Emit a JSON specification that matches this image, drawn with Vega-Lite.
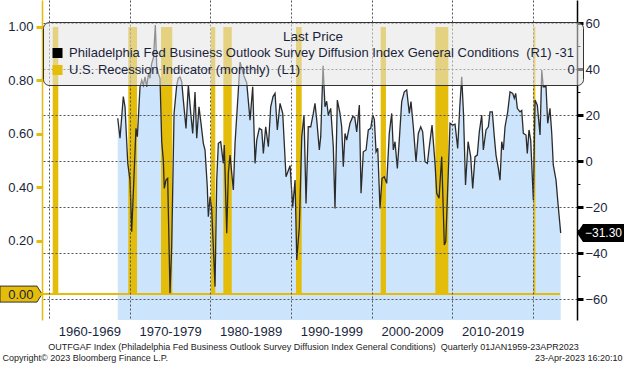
{
  "$schema": "https://vega.github.io/schema/vega-lite/v6.json",
  "width": 535,
  "height": 320,
  "autosize": {"type": "none"},
  "padding": {"left": 42, "top": 0, "right": 47, "bottom": 45},
  "background": "white",
  "config": {"view": {"stroke": null}, "font": "Liberation Sans"},
  "datasets": {
    "phil": [
      {"t":1968.52,"v":18.6},{"t":1968.80,"v":9.9},{"t":1969.21,"v":28},{"t":1969.42,"v":23.6},{"t":1969.76,"v":-0.9},{"t":1970.04,"v":-8.3},{"t":1970.25,"v":-30.7},{"t":1970.78,"v":14.2},{"t":1970.95,"v":10.6},
      {"t":1971.28,"v":32.3},{"t":1971.49,"v":35.2},{"t":1971.69,"v":33},{"t":1971.90,"v":36.6},{"t":1972.11,"v":32.3},{"t":1972.33,"v":38},{"t":1972.52,"v":36},{"t":1972.73,"v":42.5},{"t":1972.95,"v":45},{"t":1973.18,"v":59.1},{"t":1973.35,"v":41},{"t":1973.55,"v":38},{"t":1973.76,"v":36},{"t":1973.97,"v":8.4},
      {"t":1974.17,"v":0.4},{"t":1974.29,"v":-11.9},{"t":1974.50,"v":-8.3},{"t":1974.71,"v":-7.5},{"t":1975.00,"v":-57.5},{"t":1975.21,"v":-37},{"t":1975.50,"v":20.7},{"t":1975.83,"v":33},{"t":1976.03,"v":36},{"t":1976.24,"v":36.5},{"t":1976.45,"v":34.5},{"t":1976.65,"v":26.5},{"t":1976.98,"v":14.2},
      {"t":1977.27,"v":33},{"t":1977.57,"v":20.7},{"t":1977.81,"v":12},{"t":1978.10,"v":30},{"t":1978.31,"v":9.9},{"t":1978.59,"v":23.6},{"t":1978.84,"v":16.4},{"t":1979.13,"v":7.7},{"t":1979.34,"v":4.8},{"t":1979.62,"v":-11.2},{"t":1979.75,"v":-24.2},{"t":1979.96,"v":-15.5},
      {"t":1980.17,"v":-21.3},{"t":1980.58,"v":-54.6},{"t":1980.79,"v":-8.3},{"t":1980.99,"v":7.7},{"t":1981.28,"v":8.4},{"t":1981.61,"v":-1},{"t":1981.73,"v":7},{"t":1982.03,"v":-31.4},{"t":1982.23,"v":-5.3},{"t":1982.44,"v":2.6},{"t":1982.85,"v":-12.6},{"t":1983.06,"v":7.7},
      {"t":1983.47,"v":30.9},{"t":1983.68,"v":43},{"t":1983.93,"v":40},{"t":1984.17,"v":37},{"t":1984.51,"v":34},{"t":1984.92,"v":17.8},{"t":1985.25,"v":32.3},{"t":1985.54,"v":-1},{"t":1985.75,"v":9.1},{"t":1986.07,"v":14.2},{"t":1986.37,"v":13.5},{"t":1986.57,"v":3.3},{"t":1986.86,"v":14.9},
      {"t":1987.19,"v":6.2},{"t":1987.48,"v":23.6},{"t":1987.77,"v":28},{"t":1988.02,"v":29.4},{"t":1988.30,"v":13.5},{"t":1988.64,"v":25.1},{"t":1988.97,"v":20.7},{"t":1989.38,"v":-6.8},{"t":1989.88,"v":-2},{"t":1990.21,"v":-19.9},{"t":1990.50,"v":-8.3},{"t":1990.71,"v":-43},
      {"t":1991.03,"v":-28.6},{"t":1991.33,"v":10.6},{"t":1991.61,"v":20},{"t":1991.86,"v":-18.4},{"t":1992.14,"v":14.9},{"t":1992.44,"v":14.9},{"t":1992.76,"v":20.7},{"t":1992.97,"v":25.1},{"t":1993.19,"v":17.8},{"t":1993.51,"v":4.8},{"t":1993.68,"v":10.6},{"t":1993.97,"v":41.4},
      {"t":1994.21,"v":23.6},{"t":1994.42,"v":26},{"t":1994.62,"v":20},{"t":1994.92,"v":22.9},{"t":1995.24,"v":6.2},{"t":1995.45,"v":-20.6},{"t":1995.74,"v":26.5},{"t":1996.07,"v":20.7},{"t":1996.28,"v":14.9},{"t":1996.48,"v":-2.5},{"t":1996.69,"v":12},{"t":1996.90,"v":9.1},
      {"t":1997.31,"v":16.4},{"t":1997.65,"v":19.3},{"t":1997.90,"v":19},{"t":1998.14,"v":12.7},{"t":1998.47,"v":24.3},{"t":1998.68,"v":-14},{"t":1998.96,"v":4},{"t":1999.30,"v":4.8},{"t":1999.58,"v":13.5},{"t":1999.88,"v":14.2},{"t":2000.13,"v":20},{"t":2000.33,"v":18},{"t":2000.54,"v":4},{"t":2000.75,"v":5.5},
      {"t":2001.03,"v":-20.6},{"t":2001.28,"v":-7.5},{"t":2001.56,"v":-6.8},{"t":2001.86,"v":-9.7},{"t":2002.18,"v":12},{"t":2002.48,"v":20.7},{"t":2002.68,"v":4.8},{"t":2002.89,"v":8.4},{"t":2003.18,"v":-3.2},{"t":2003.42,"v":9.1},{"t":2003.72,"v":25.8},
      {"t":2004.04,"v":30.1},{"t":2004.34,"v":30.9},{"t":2004.66,"v":20.7},{"t":2004.87,"v":25.8},{"t":2005.16,"v":14.9},{"t":2005.49,"v":-0.3},{"t":2005.78,"v":12},{"t":2006.08,"v":14.9},{"t":2006.32,"v":12.7},{"t":2006.61,"v":-0.3},{"t":2006.90,"v":-1},{"t":2007.14,"v":6.2},{"t":2007.48,"v":15.6},
      {"t":2007.85,"v":-1},{"t":2008.06,"v":-14},{"t":2008.35,"v":-16.2},{"t":2008.68,"v":1.9},{"t":2009.00,"v":-36.5},{"t":2009.18,"v":-35.1},{"t":2009.50,"v":-4.6},{"t":2009.71,"v":16.4},{"t":2010.04,"v":15.6},{"t":2010.33,"v":16},{"t":2010.66,"v":5.5},{"t":2010.92,"v":23.6},
      {"t":2011.16,"v":36.6},{"t":2011.38,"v":20.7},{"t":2011.63,"v":-10.4},{"t":2011.95,"v":8.4},{"t":2012.27,"v":1.9},{"t":2012.52,"v":-11.9},{"t":2012.81,"v":1.9},{"t":2013.09,"v":2.6},{"t":2013.34,"v":12.7},{"t":2013.64,"v":20},{"t":2013.84,"v":4.8},
      {"t":2014.17,"v":13.5},{"t":2014.46,"v":14.9},{"t":2014.67,"v":21.4},{"t":2014.95,"v":21.4},{"t":2015.20,"v":10.6},{"t":2015.41,"v":2.6},{"t":2015.70,"v":-3.2},{"t":2015.91,"v":-8.3},{"t":2016.12,"v":8.4},{"t":2016.32,"v":4.8},{"t":2016.53,"v":14.9},{"t":2016.86,"v":21.4},
      {"t":2017.15,"v":30.1},{"t":2017.48,"v":29.4},{"t":2017.68,"v":27.3},{"t":2017.85,"v":29.4},{"t":2018.05,"v":22.9},{"t":2018.39,"v":21.4},{"t":2018.60,"v":22},{"t":2018.80,"v":12},{"t":2019.13,"v":11.3},{"t":2019.29,"v":3.3},{"t":2019.50,"v":13.5},{"t":2019.71,"v":9.1},
      {"t":2020.04,"v":-17},{"t":2020.25,"v":26.5},{"t":2020.53,"v":24.3},{"t":2020.87,"v":11.3},{"t":2021.08,"v":39.6},{"t":2021.27,"v":32.3},{"t":2021.61,"v":32.3},{"t":2021.82,"v":16.4},{"t":2022.10,"v":22.9},{"t":2022.32,"v":12},{"t":2022.51,"v":-1.7},{"t":2022.85,"v":-8.3},{"t":2023.13,"v":-19.9},{"t":2023.43,"v":-31.3}
    ],
    "rec": [
      {"start":1960.46,"end":1961.15,"value":1,"series":"rec"},
      {"start":1969.83,"end":1970.91,"value":1,"series":"rec"},
      {"start":1973.88,"end":1975.28,"value":1,"series":"rec"},
      {"start":1980.08,"end":1980.61,"value":1,"series":"rec"},
      {"start":1981.61,"end":1982.65,"value":1,"series":"rec"},
      {"start":1990.62,"end":1991.32,"value":1,"series":"rec"},
      {"start":2001.11,"end":2001.77,"value":1,"series":"rec"},
      {"start":2007.89,"end":2009.50,"value":1,"series":"rec"},
      {"start":2020.04,"end":2020.29,"value":1,"series":"rec"}
    ],
    "recbase": [{"start":1959.0,"end":2023.35,"value":0}],
    "lastrec": [{"last":0}],
    "lastphil": [{"last":-31.3}]
  },
  "layer": [
    {
      "data": {"name": "phil"},
      "mark": {"type": "area", "color": "#cce4fc", "opacity": 1, "clip": true},
      "encoding": {
        "x": {
          "field": "t", "type": "quantitative",
          "scale": {"domain": [1959.13, 2025.45], "nice": false, "zero": false},
          "axis": {
            "values": [1960,1965,1970,1975,1980,1985,1990,1995,2000,2005,2010,2015,2020],
            "labelExpr": "datum.value % 10 == 5 ? (datum.value - 5) + '-' + (datum.value + 4) : ''",
            "domain": false, "ticks": false,
            "grid": true, "gridColor": "#555555", "gridDash": [2, 2], "gridWidth": 1,
            "gridOpacity": {"condition": {"test": "datum.value % 10 == 0", "value": 1}, "value": 0},
            "labelFont": "Liberation Sans", "labelFontSize": 13, "labelColor": "#1a1f3c", "labelPadding": 5,
            "labelOverlap": false, "labelFlush": false, "labelBound": false,
            "title": "OUTFGAF Index (Philadelphia Fed Business Outlook Survey Diffusion Index General Conditions)\u00a0\u00a0Quarterly 01JAN1959-23APR2023",
            "titleFont": "Liberation Sans", "titleFontSize": 9, "titleFontWeight": "normal", "titleColor": "#222222",
            "titleX": 271, "titleY": 26, "titleBaseline": "middle", "titleAlign": "center",
            "zindex": 1
          }
        },
        "y": {
          "field": "v", "type": "quantitative",
          "scale": {"domain": [-69.1, 70], "nice": false, "zero": false},
          "axis": {
            "orient": "right",
            "values": [-60,-50,-40,-30,-20,-10,0,10,20,30,40,50,60],
            "labelExpr": "datum.value % 20 == 0 ? datum.label : ''",
            "domainColor": "#000000", "domainWidth": 1.5,
            "tickColor": "#000000",
            "tickSize": {"condition": {"test": "datum.value % 20 == 0", "value": 6}, "value": 3},
            "tickWidth": {"condition": {"test": "datum.value % 20 == 0", "value": 3}, "value": 1},
            "grid": true, "gridColor": "#555555", "gridDash": [2, 2], "gridWidth": 1,
            "gridOpacity": {"condition": {"test": "datum.value % 20 == 0", "value": 1}, "value": 0},
            "labelFont": "Liberation Sans", "labelFontSize": 13, "labelColor": "#1a1f3c", "labelPadding": 2,
            "labelOverlap": false, "labelFlush": false, "labelBound": false,
            "title": "23-Apr-2023 16:20:10",
            "titleFont": "Liberation Sans", "titleFontSize": 9, "titleFontWeight": "normal", "titleColor": "#222222",
            "titleAngle": 0, "titleX": 45, "titleY": 357, "titleAlign": "right", "titleBaseline": "middle",
            "zindex": 1
          }
        },
        "y2": {"datum": -69.1}
      }
    },
    {
      "layer": [
        {
          "data": {"name": "rec"},
          "mark": {"type": "rect", "color": "#e4bd0a", "opacity": 1},
          "encoding": {
            "x": {"field": "start", "type": "quantitative", "scale": {"domain": [1959.13, 2025.45], "nice": false, "zero": false}},
            "x2": {"field": "end"},
            "y": {
              "field": "value", "type": "quantitative",
              "scale": {"domain": [-0.097, 1.101], "nice": false, "zero": false},
              "axis": {
                "orient": "left",
                "values": [0,0.1,0.2,0.3,0.4,0.5,0.6,0.7,0.8,0.9,1.0],
                "labelExpr": "round(datum.value * 10) % 2 == 0 ? format(datum.value, '.2f') : ''",
                "domainColor": "#e4bd0a", "domainWidth": 1.5,
                "tickColor": "#e4bd0a",
                "tickSize": {"condition": {"test": "round(datum.value * 10) % 2 == 0", "value": 6}, "value": 3},
                "tickWidth": {"condition": {"test": "round(datum.value * 10) % 2 == 0", "value": 3}, "value": 1},
                "grid": false,
                "labelFont": "Liberation Sans", "labelFontSize": 13, "labelColor": "#1a1f3c", "labelPadding": 3,
                "labelOverlap": false, "labelFlush": false, "labelBound": false,
                "title": "Copyright\u00a9 2023 Bloomberg Finance L.P.",
                "titleFont": "Liberation Sans", "titleFontSize": 9, "titleFontWeight": "normal", "titleColor": "#222222",
                "titleAngle": 0, "titleX": -40, "titleY": 357, "titleAlign": "left", "titleBaseline": "middle",
                "zindex": 1
              }
            },
            "y2": {"datum": 0},
            "color": {
              "field": "series", "type": "nominal",
              "scale": {"domain": ["phil", "rec"], "range": ["#000000", "#e4bd0a"]},
              "legend": {
                "orient": "none", "legendX": 1, "legendY": 22, "direction": "vertical",
                "title": "Last Price", "titleFont": "Liberation Sans", "titleFontSize": 13.5, "titleFontWeight": "normal",
                "titleColor": "#1a1f3c", "titleAnchor": "middle", "titlePadding": 3,
                "labelExpr": "datum.value == 'phil' ? 'Philadelphia Fed Business Outlook Survey Diffusion Index General Conditions\u00a0\u00a0(R1)\u00a0-31' : 'U.S. Recession Indicator (monthly)\u00a0\u00a0(L1)\u00a0\u00a0\u00a0\u00a0\u00a0\u00a0\u00a0\u00a0\u00a0\u00a0\u00a0\u00a0\u00a0\u00a0\u00a0\u00a0\u00a0\u00a0\u00a0\u00a0\u00a0\u00a0\u00a0\u00a0\u00a0\u00a0\u00a0\u00a0\u00a0\u00a0\u00a0\u00a0\u00a0\u00a0\u00a0\u00a0\u00a0\u00a0\u00a0\u00a0\u00a0\u00a0\u00a0\u00a0\u00a0\u00a0\u00a0\u00a0\u00a0\u00a0\u00a0\u00a0\u00a0\u00a0\u00a0\u00a0\u00a0\u00a0\u00a0\u00a0\u00a0\u00a0\u00a0\u00a0\u00a0\u00a0\u00a0\u00a0\u00a0\u00a0\u00a0\u00a0\u00a0\u00a00'",
                "labelFont": "Liberation Sans", "labelFontSize": 13, "labelColor": "#1a1f3c", "labelLimit": 1000, "labelOffset": 5,
                "symbolType": "square", "symbolSize": 100, "symbolStrokeWidth": 0, "symbolOpacity": 1,
                "rowPadding": 3, "padding": 8,
                "fillColor": "rgba(228,228,228,0.55)", "strokeColor": "#333333", "cornerRadius": 6,
                "zindex": 2
              }
            }
          }
        },
        {
          "data": {"name": "recbase"},
          "mark": {"type": "rule", "color": "#e4bd0a", "strokeWidth": 2, "clip": true},
          "encoding": {
            "x": {"field": "start", "type": "quantitative", "scale": {"domain": [1959.13, 2025.45], "nice": false, "zero": false}},
            "x2": {"field": "end"},
            "y": {"field": "value", "type": "quantitative", "scale": {"domain": [-0.097, 1.101], "nice": false, "zero": false}}
          }
        },
        {
          "data": {"name": "lastrec"},
          "mark": {"type": "point", "shape": "M-42,-8L-5,-8L0,0L-5,8L-42,8Z", "size": 4, "filled": true, "fill": "#e4bd0a", "stroke": "#333333", "strokeWidth": 1, "opacity": 1, "clip": false},
          "encoding": {
            "x": {"datum": 1959.13, "type": "quantitative", "scale": {"domain": [1959.13, 2025.45], "nice": false, "zero": false}},
            "y": {"field": "last", "type": "quantitative", "scale": {"domain": [-0.097, 1.101], "nice": false, "zero": false}}
          }
        }
      ]
    },
    {
      "layer": [
        {
          "data": {"name": "phil"},
          "mark": {"type": "line", "color": "#2b2b2b", "strokeWidth": 1.3, "clip": true},
          "encoding": {
            "x": {"field": "t", "type": "quantitative", "scale": {"domain": [1959.13, 2025.45], "nice": false, "zero": false}},
            "y": {"field": "v", "type": "quantitative", "scale": {"domain": [-69.1, 70], "nice": false, "zero": false}, "axis": null}
          }
        },
        {
          "data": {"name": "lastphil"},
          "mark": {"type": "point", "shape": "M0,0L6,-9L47,-9L47,9L6,9Z", "size": 4, "filled": true, "fill": "#000000", "opacity": 1, "clip": false},
          "encoding": {
            "x": {"datum": 2025.45, "type": "quantitative", "scale": {"domain": [1959.13, 2025.45], "nice": false, "zero": false}},
            "y": {"field": "last", "type": "quantitative", "scale": {"domain": [-69.1, 70], "nice": false, "zero": false}, "axis": null}
          }
        },
        {
          "data": {"name": "lastphil"},
          "mark": {"type": "text", "color": "#ffffff", "align": "left", "baseline": "middle", "dx": 8, "font": "Liberation Sans", "fontSize": 12, "clip": false},
          "encoding": {
            "x": {"datum": 2025.45, "type": "quantitative", "scale": {"domain": [1959.13, 2025.45], "nice": false, "zero": false}},
            "y": {"field": "last", "type": "quantitative", "scale": {"domain": [-69.1, 70], "nice": false, "zero": false}, "axis": null},
            "text": {"field": "last", "type": "quantitative", "format": ".2f"}
          }
        }
      ]
    }
  ],
  "resolve": {"scale": {"y": "independent"}}
}
